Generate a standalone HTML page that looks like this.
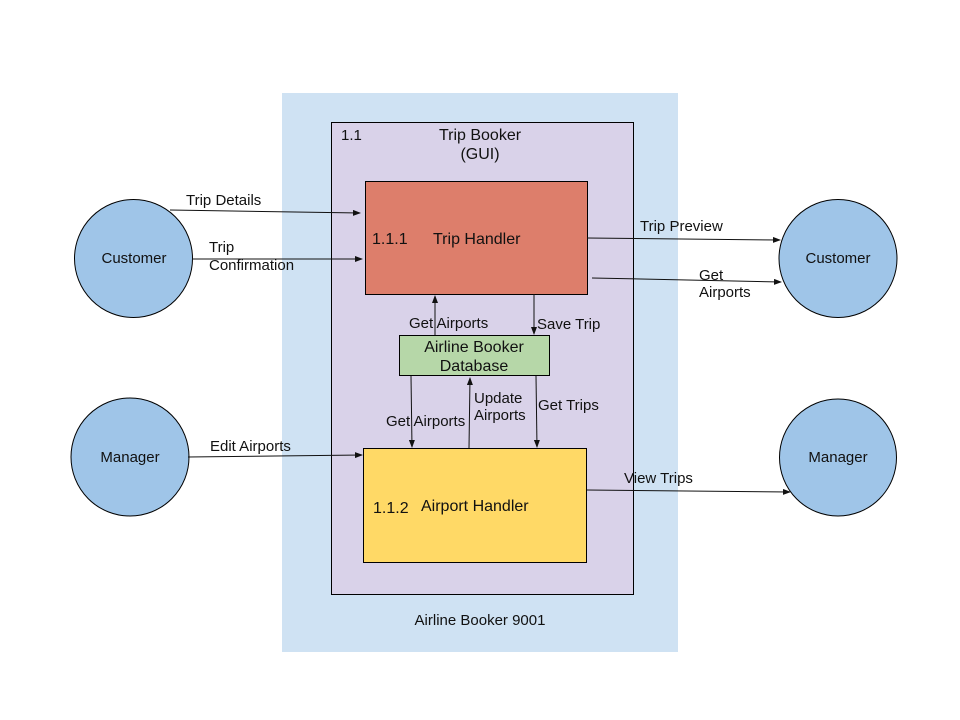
<!DOCTYPE html>
<html><head><meta charset="utf-8"><style>
html,body{margin:0;padding:0;background:#fff;}
svg{display:block;}
text{font-family:"Liberation Sans",Arial,sans-serif;fill:#111;}
</style></head><body>
<svg width="960" height="720" viewBox="0 0 960 720" xmlns="http://www.w3.org/2000/svg">
<defs>
<marker id="a" markerWidth="8" markerHeight="6" refX="7" refY="3" orient="auto" markerUnits="userSpaceOnUse">
<path d="M0,0 L8,3 L0,6 z" fill="#111"/></marker>
</defs>
<rect x="282" y="93" width="396" height="559" fill="#cfe2f3"/>
<rect x="331.5" y="122.5" width="302" height="472" fill="#d9d2e9" stroke="#000" stroke-width="1"/>
<text x="341" y="140" font-size="15">1.1</text>
<text x="480" y="140" font-size="16" text-anchor="middle">Trip Booker</text>
<text x="480" y="159" font-size="16" text-anchor="middle">(GUI)</text>
<text x="480" y="625" font-size="15" text-anchor="middle">Airline Booker 9001</text>

<rect x="365.5" y="181.5" width="222" height="113" fill="#dd7e6b" stroke="#000"/>
<text x="372" y="244" font-size="16">1.1.1</text>
<text x="433" y="244" font-size="16">Trip Handler</text>

<rect x="399.5" y="335.5" width="150" height="40" fill="#b6d7a8" stroke="#000"/>
<text x="474" y="352" font-size="16" text-anchor="middle">Airline Booker</text>
<text x="474" y="371" font-size="16" text-anchor="middle">Database</text>

<rect x="363.5" y="448.5" width="223" height="114" fill="#ffd966" stroke="#000"/>
<text x="373" y="513" font-size="16">1.1.2</text>
<text x="421" y="511" font-size="16">Airport Handler</text>

<g fill="#9fc5e8" stroke="#000" stroke-width="1">
<circle cx="133.5" cy="258.5" r="59"/>
<circle cx="130" cy="457" r="59"/>
<circle cx="838" cy="258.5" r="59"/>
<circle cx="838" cy="457.5" r="58.5"/>
</g>
<g font-size="15" text-anchor="middle">
<text x="134" y="263">Customer</text>
<text x="130" y="462">Manager</text>
<text x="838" y="263">Customer</text>
<text x="838" y="462">Manager</text>
</g>

<g stroke="#111" stroke-width="1" fill="none" marker-end="url(#a)">
<line x1="170" y1="210" x2="360" y2="213"/>
<line x1="192" y1="259" x2="362" y2="259"/>
<line x1="587" y1="238" x2="780" y2="240"/>
<line x1="592" y1="278" x2="781" y2="282"/>
<line x1="188" y1="457" x2="362" y2="455"/>
<line x1="587" y1="490" x2="790" y2="492"/>
<line x1="435" y1="335" x2="435" y2="296"/>
<line x1="534" y1="294" x2="534" y2="334"/>
<line x1="411" y1="376" x2="412" y2="447"/>
<line x1="469" y1="448" x2="470" y2="378"/>
<line x1="536" y1="376" x2="537" y2="447"/>
</g>

<g font-size="15">
<text x="186" y="205">Trip Details</text>
<text x="209" y="252">Trip</text>
<text x="209" y="270">Confirmation</text>
<text x="640" y="231">Trip Preview</text>
<text x="699" y="280">Get</text>
<text x="699" y="297">Airports</text>
<text x="210" y="451">Edit Airports</text>
<text x="624" y="483">View Trips</text>
<text x="409" y="328">Get Airports</text>
<text x="537" y="329">Save Trip</text>
<text x="386" y="426">Get Airports</text>
<text x="474" y="403">Update</text>
<text x="474" y="420">Airports</text>
<text x="538" y="410">Get Trips</text>
</g>
</svg>
</body></html>
